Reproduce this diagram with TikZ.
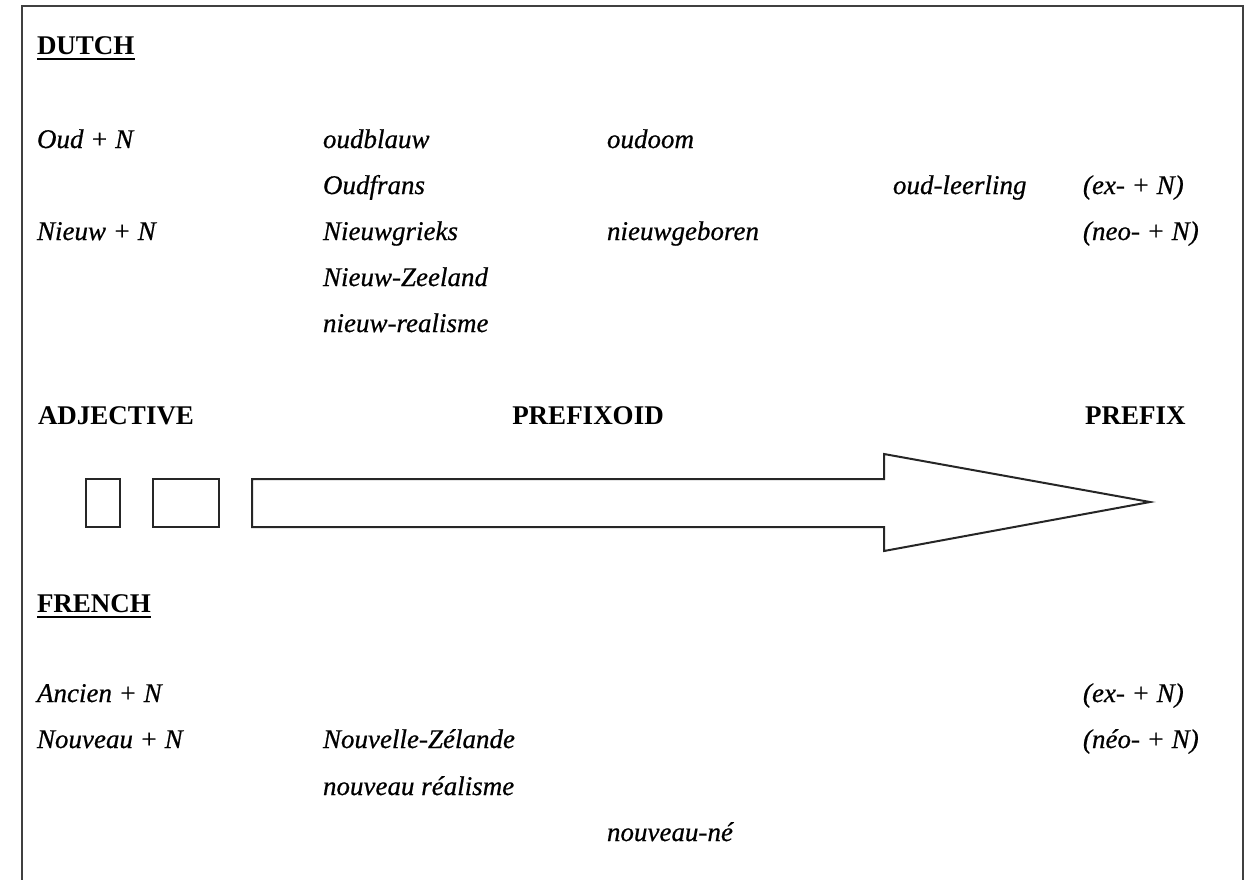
\documentclass[tikz,border=0pt]{standalone}
\usepackage{fontspec}
\setmainfont{Liberation Serif}[ItalicFeatures={FakeBold=0.6}]
\begin{document}
\begin{tikzpicture}[x=1pt,y=-1pt,
  every node/.style={inner sep=0pt,outer sep=0pt,anchor=base west,font=\fontsize{27}{32}\selectfont},
  it/.style={font=\fontsize{27}{32}\selectfont\itshape},
  hd/.style={font=\fontsize{27}{32}\selectfont\bfseries},
  uline/.style={draw=black,line width=2.6pt},
  frame/.style={draw=black!75,line width=2pt},
  shp/.style={draw=black!85,line width=2pt,line join=miter}]
\useasboundingbox (0,0) rectangle (1248,879);
\draw[frame] (22,885) -- (22,6) -- (1243,6) -- (1243,885);
% DUTCH
\node[hd] (dutch) at (37,54) {DUTCH};
\draw[uline] ([yshift=-5pt]dutch.base west) -- ([yshift=-5pt]dutch.base east);
\node[it] (oudN) at (37,148) {Oud + N};
\node[it] (oudblauw) at (323,148) {oudblauw};
\node[it] (oudoom) at (607,148) {oudoom};
\node[it] (oudfrans) at (323,194) {Oudfrans};
\node[it] (oudleerling) at (893,194) {oud-leerling};
\node[it] (exN) at (1083,194) {(ex- + N)};
\node[it] (nieuwN) at (37,240) {Nieuw + N};
\node[it] (nieuwgrieks) at (323,240) {Nieuwgrieks};
\node[it] (nieuwgeboren) at (607,240) {nieuwgeboren};
\node[it] (neoN) at (1083,240) {(neo- + N)};
\node[it] (nz) at (323,286) {Nieuw-Zeeland};
\node[it] (nr) at (323,332) {nieuw-realisme};
% scale
\node[hd] (adj) at (38,424) {ADJECTIVE};
\node[hd,anchor=base] (prefixoid) at (588,424) {PREFIXOID};
\node[hd] (prefix) at (1085,424) {PREFIX};
\draw[shp] (86,479) rectangle (120,527);
\draw[shp] (153,479) rectangle (219,527);
\draw[shp] (252,479) -- (884,479) -- (884,454) -- (1150,502) -- (884,551) -- (884,527) -- (252,527) -- cycle;
% FRENCH
\node[hd] (french) at (37,612) {FRENCH};
\draw[uline] ([yshift=-5pt]french.base west) -- ([yshift=-5pt]french.base east);
\node[it] (ancienN) at (37,702) {Ancien + N};
\node[it] (exN2) at (1083,702) {(ex- + N)};
\node[it] (nouveauN) at (37,748) {Nouveau + N};
\node[it] (nouvelle) at (323,748) {Nouvelle-Zélande};
\node[it] (neoN2) at (1083,748) {(néo- + N)};
\node[it] (nreal) at (323,795) {nouveau réalisme};
\node[it] (nne) at (607,841) {nouveau-né};
\end{tikzpicture}
\end{document}
